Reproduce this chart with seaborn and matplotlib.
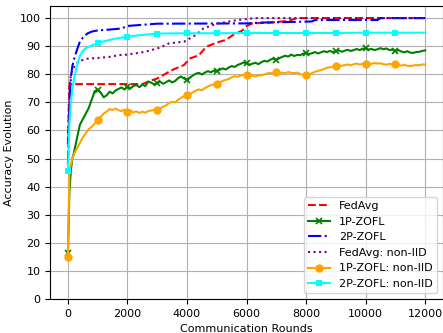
import numpy as np
import matplotlib
matplotlib.use("Agg")
import matplotlib.pyplot as plt
import seaborn as sns

# ---- data ----
rounds_noisy = [0, 50, 100, 150] + list(range(200, 12001, 100))

zofl1_iid = [16.5, 38, 46, 50,
    52, 57, 62, 64, 66, 68, 71, 74,
    74.5, 73.5, 71.8, 72.5, 73.8, 73.2, 74.2, 74.8, 75.3, 74.6,
    75.6, 75.0, 75.8, 76.2, 75.4, 76.3, 75.8, 77.4, 77.0, 76.4,
    76.9, 77.3, 76.6, 77.2, 77.8, 77.1, 77.6, 78.6, 79.2, 78.5,
    77.9, 78.8, 79.6, 80.2, 80.5, 79.9, 80.6, 81.1, 80.7, 81.3,
    81.0, 81.6, 82.1, 81.7, 82.4, 82.9, 82.6, 83.3, 83.7, 84.2,
    83.9, 83.4, 83.8, 84.1, 83.6, 84.3, 84.8, 84.5, 85.2, 85.6,
    85.1, 85.7, 86.2, 86.6, 86.3, 87.0, 86.5, 86.9, 86.8, 87.3,
    87.6, 87.2, 87.5, 87.9, 87.4, 87.8, 88.2, 87.9, 88.3, 87.9,
    88.2, 88.5, 88.0, 88.4, 88.7, 88.3, 88.6, 89.0, 88.6, 89.1,
    89.2, 88.8, 89.0, 88.6, 88.9, 89.3, 88.9, 89.2, 88.6, 88.8,
    88.3, 88.6, 88.1, 87.8, 88.2, 87.7, 87.6, 87.9, 88.0, 88.3,
    88.5]

zofl1_noniid = [15, 45, 48, 50,
    51.5, 53.5, 55.5, 57.5, 59.0, 60.5, 61.3, 62.5,
    63.7, 64.8, 66.0, 66.7, 67.6, 67.3, 67.8, 67.2, 66.9, 67.4,
    66.7, 67.1, 66.4, 66.8, 66.2, 66.7, 66.3, 66.9, 67.1, 67.3,
    67.3, 67.8, 68.5, 68.9, 69.8, 70.2, 70.0, 70.9, 71.6, 72.2,
    72.5, 72.9, 73.6, 74.2, 74.6, 74.3, 75.1, 75.6, 76.1, 76.4,
    76.7, 77.2, 77.6, 78.0, 78.3, 78.9, 79.3, 79.1, 79.6, 79.8,
    79.7, 80.1, 79.5, 79.2, 79.7, 79.6, 80.0, 80.3, 80.5, 80.2,
    80.7, 80.4, 80.6, 80.3, 80.8, 80.5, 80.4, 80.6, 80.1, 79.8,
    79.6, 80.0, 80.4, 80.9, 81.2, 81.5, 81.9, 82.3, 82.5, 82.7,
    82.9, 83.2, 83.0, 83.3, 83.5, 83.2, 83.6, 83.8, 83.5, 83.7,
    83.6, 83.9, 83.7, 84.0, 83.8, 83.9, 83.6, 83.4, 83.7, 83.5,
    83.6, 83.3, 83.1, 83.4, 83.0, 82.9, 83.1, 83.3, 83.2, 83.5,
    83.4]

rounds_zofl2_noniid = [0, 50, 100, 150, 200, 300, 400, 500, 600, 800, 1000, 1200,
                       1500, 2000, 2500, 3000, 4000, 5000, 6000, 7000, 8000,
                       9000, 10000, 11000, 12000]
zofl2_noniid = [45.5, 62, 70, 75, 78, 83, 86.5, 88.3, 89.3, 90.3, 91.0, 91.7,
                92.5, 93.4, 94.0, 94.5, 94.6, 94.6, 94.7, 94.7, 94.7,
                94.7, 94.8, 94.8, 94.8]

rounds_zofl2_iid = [0, 50, 100, 150, 250, 400, 500, 650, 800, 1000, 1500, 1800,
                    2000, 2500, 3000, 6000, 6500, 7500, 8200, 8300, 10400, 10500, 12000]
zofl2_iid = [48, 70, 79, 83, 87, 91.6, 93, 94.5, 95.2, 95.6, 96.0, 96.3,
             97.2, 97.6, 98.0, 98.1, 98.4, 98.6, 98.8, 99.3, 99.3, 100, 100]

rounds_fedavg_noniid = [0, 50, 100, 200, 350, 600, 1000, 1400, 1700, 2000, 2600,
                        3100, 3400, 3900, 4300, 4550, 5000, 5700, 6300, 12000]
fedavg_noniid = [55, 75, 80, 82.5, 84.5, 85.5, 85.8, 86.2, 86.8, 87.0, 88.0,
                 89.5, 91.0, 91.6, 94.0, 96.3, 98.0, 99.3, 100.0, 100.0]

rounds_fedavg_iid = [0, 50, 2500, 2800, 3000, 3500, 3900, 4100, 4400, 4650, 5000,
                     5300, 5550, 5850, 6000, 6200, 6800, 7400, 7700, 12000]
fedavg_iid = [55, 76.5, 76.5, 77.8, 78.5, 81.5, 83.3, 85.6, 86.8, 89.8, 91.3,
              92.2, 94.0, 95.5, 97.2, 98.1, 98.4, 99.0, 100, 100]

x_ticks = [0, 2000, 4000, 6000, 8000, 10000, 12000]
y_ticks = [0, 10, 20, 30, 40, 50, 60, 70, 80, 90, 100]

# ---- style ----
plt.rcParams.update({
    "font.size": 8, "axes.labelsize": 8, "xtick.labelsize": 8,
    "ytick.labelsize": 8, "legend.fontsize": 8,
})
plt.rcParams["font.family"] = ["DejaVu Sans"]

fig = plt.figure(figsize=(4.43, 3.33), dpi=100)
ax = fig.add_axes([0.113, 0.102, 0.887, 0.880])


def marks(xs):
    return [i for i, v in enumerate(xs) if v % 1000 == 0 and v < 12000]


sns.lineplot(x=rounds_fedavg_iid, y=fedavg_iid, ax=ax, color="red",
             linestyle="--", linewidth=1.5, label="FedAvg", sort=False)
sns.lineplot(x=rounds_noisy, y=zofl1_iid, ax=ax, color="green",
             linestyle="-", linewidth=1.5, marker="x", markersize=5,
             markeredgecolor="green", markeredgewidth=1.2,
             markevery=marks(rounds_noisy), label="1P-ZOFL", sort=False)
sns.lineplot(x=rounds_zofl2_iid, y=zofl2_iid, ax=ax, color="blue",
             linestyle="-.", linewidth=1.5, label="2P-ZOFL", sort=False)
sns.lineplot(x=rounds_fedavg_noniid, y=fedavg_noniid, ax=ax, color="purple",
             linestyle=":", linewidth=1.5, label="FedAvg: non-IID", sort=False)
sns.lineplot(x=rounds_noisy, y=zofl1_noniid, ax=ax, color="orange",
             linestyle="-", linewidth=1.5, marker="o", markersize=6,
             markeredgecolor="orange", markeredgewidth=0,
             markevery=marks(rounds_noisy), label="1P-ZOFL: non-IID", sort=False)
sns.lineplot(x=rounds_zofl2_noniid, y=zofl2_noniid, ax=ax, color="cyan",
             linestyle="-", linewidth=1.5, marker="s", markersize=5,
             markeredgecolor="cyan", markeredgewidth=0,
             markevery=marks(rounds_zofl2_noniid), label="2P-ZOFL: non-IID", sort=False)

ax.set_xlim(-600, 12600)
ax.set_ylim(0, 104.3)
ax.set_xticks(x_ticks)
ax.set_yticks(y_ticks)
ax.grid(True, color="#b0b0b0", linewidth=0.8)
ax.set_axisbelow(True)
ax.set_xlabel("Communication Rounds")
ax.set_ylabel("Accuracy Evolution")
ax.legend(loc="lower right")

fig.savefig("out.png", dpi=100)
